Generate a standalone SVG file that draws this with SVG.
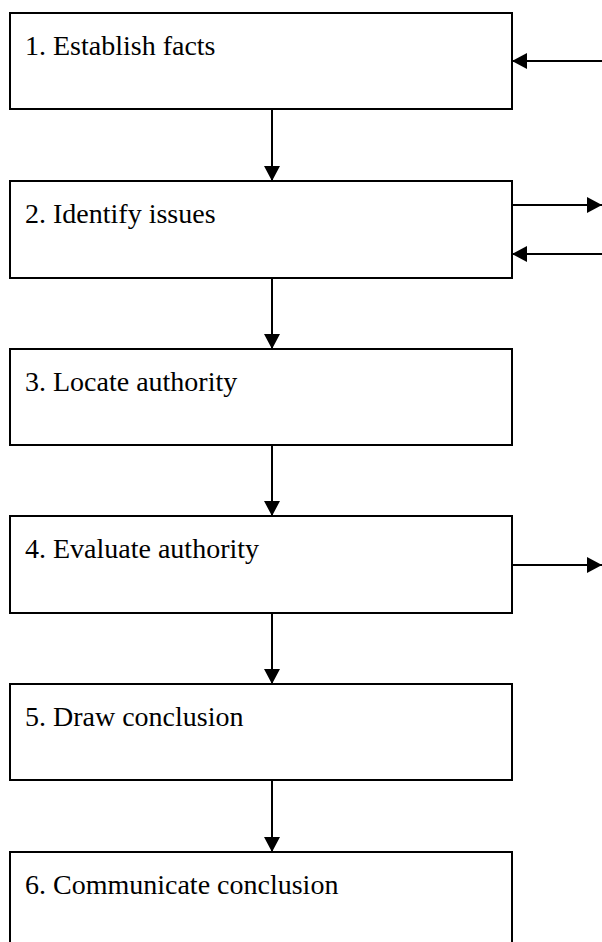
<svg xmlns="http://www.w3.org/2000/svg" width="602" height="942" viewBox="0 0 602 942">
<defs>
<style>
.box{fill:#fff;stroke:#000;stroke-width:2}
.lbl{font-family:"Liberation Serif","Times New Roman",serif;font-size:28px;fill:#000}
.arr{stroke:#000;stroke-width:2;fill:none;marker-end:url(#ah)}
</style>
<marker id="ah" markerUnits="userSpaceOnUse" markerWidth="16" markerHeight="18" refX="15" refY="8" orient="auto">
<path d="M0,0 L15,8 L0,16 Z" fill="#000"/>
</marker>
</defs>
<rect width="602" height="942" fill="#fff"/>
<g id="connectors">
<line class="arr" x1="272" y1="109" x2="272" y2="181"/>
<line class="arr" x1="272" y1="278" x2="272" y2="349"/>
<line class="arr" x1="272" y1="445" x2="272" y2="516"/>
<line class="arr" x1="272" y1="613" x2="272" y2="684"/>
<line class="arr" x1="272" y1="780" x2="272" y2="852"/>
<line class="arr" x1="602" y1="61" x2="512" y2="61"/>
<line class="arr" x1="512" y1="205" x2="602" y2="205"/>
<line class="arr" x1="602" y1="254" x2="512" y2="254"/>
<line class="arr" x1="512" y1="565" x2="602" y2="565"/>
</g>
<g id="n1"><rect class="box" x="10" y="13" width="502" height="96"/><text class="lbl" x="25" y="55">1. Establish facts</text></g>
<g id="n2"><rect class="box" x="10" y="181" width="502" height="97"/><text class="lbl" x="25" y="223">2. Identify issues</text></g>
<g id="n3"><rect class="box" x="10" y="349" width="502" height="96"/><text class="lbl" x="25" y="391">3. Locate authority</text></g>
<g id="n4"><rect class="box" x="10" y="516" width="502" height="97"/><text class="lbl" x="25" y="558">4. Evaluate authority</text></g>
<g id="n5"><rect class="box" x="10" y="684" width="502" height="96"/><text class="lbl" x="25" y="726">5. Draw conclusion</text></g>
<g id="n6"><rect class="box" x="10" y="852" width="502" height="100"/><text class="lbl" x="25" y="894">6. Communicate conclusion</text></g>
</svg>
